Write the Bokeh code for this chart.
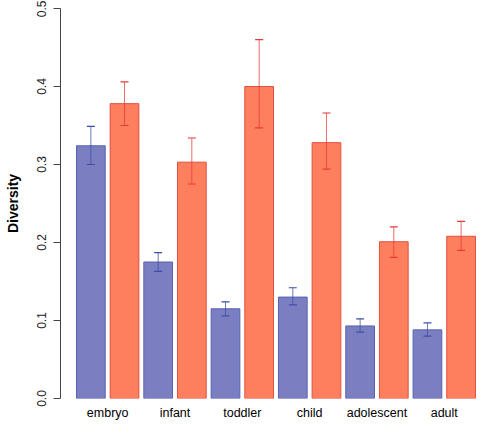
from bokeh.plotting import figure
from bokeh.models import ColumnDataSource, Whisker, FixedTicker, Range1d, TeeHead
from bokeh.embed import file_html
from bokeh.resources import INLINE

stages = ["embryo", "infant", "toddler", "child", "adolescent", "adult"]
blue_mean = [0.324, 0.175, 0.115, 0.130, 0.093, 0.088]
blue_lo = [0.300, 0.163, 0.106, 0.120, 0.085, 0.080]
blue_hi = [0.349, 0.187, 0.124, 0.142, 0.102, 0.097]
red_mean = [0.378, 0.303, 0.400, 0.328, 0.201, 0.208]
red_lo = [0.350, 0.275, 0.347, 0.294, 0.181, 0.190]
red_hi = [0.406, 0.334, 0.460, 0.366, 0.220, 0.227]
y_ticks = [0.0, 0.1, 0.2, 0.3, 0.4, 0.5]

FONT = "Liberation Sans"
n = len(stages)
bx = [2 * i for i in range(n)]
rx = [2 * i + 1 for i in range(n)]
centers = [2 * i + 0.5 for i in range(n)]

p = figure(width=477, height=422, output_backend="svg", toolbar_location=None,
           x_range=Range1d(-0.902, 11.487), y_range=Range1d(0, 0.5),
           min_border_left=60, min_border_right=0, min_border_top=8, min_border_bottom=22)
p.outline_line_color = None
p.grid.visible = False
p.background_fill_color = "white"

bsrc = ColumnDataSource(dict(x=bx, top=blue_mean, lo=blue_lo, hi=blue_hi))
rsrc = ColumnDataSource(dict(x=rx, top=red_mean, lo=red_lo, hi=red_hi))

p.vbar(x="x", top="top", bottom=0, width=0.853, source=bsrc,
       fill_color="#7b7fc1", line_color="#5862b0", line_width=1)
p.vbar(x="x", top="top", bottom=0, width=0.853, source=rsrc,
       fill_color="#fe7f5e", line_color="#e0503e", line_width=1)

for src, col in ((bsrc, "#3f4ea2"), (rsrc, "#e8393a")):
    w = Whisker(base="x", lower="lo", upper="hi", source=src, level="annotation",
                line_color=col, line_width=1, line_alpha=0.75,
                upper_head=TeeHead(size=8, line_color=col, line_width=1.2),
                lower_head=TeeHead(size=8, line_color=col, line_width=1.2))
    p.add_layout(w)

# y axis
ya = p.yaxis[0]
ya.ticker = FixedTicker(ticks=y_ticks)
ya.major_label_overrides = {t: f"{t:.1f}" for t in y_ticks}
ya.major_label_orientation = "vertical"
ya.minor_tick_line_color = None
ya.major_tick_out = 7
ya.major_tick_in = 0
ya.axis_line_color = "#444444"
ya.major_tick_line_color = "#444444"
ya.major_label_text_font = FONT
ya.major_label_text_font_size = "12px"
ya.major_label_text_color = "#222222"
ya.major_label_standoff = 8
ya.axis_label = "Diversity"
ya.axis_label_text_font = FONT
ya.axis_label_text_font_size = "14px"
ya.axis_label_text_font_style = "bold"
ya.axis_label_text_color = "black"
ya.axis_label_standoff = 13

# x axis: category labels only
xa = p.xaxis[0]
xa.ticker = FixedTicker(ticks=centers)
xa.major_label_overrides = {c: s for c, s in zip(centers, stages)}
xa.axis_line_color = None
xa.major_tick_line_color = None
xa.minor_tick_line_color = None
xa.major_tick_out = 0
xa.major_tick_in = 0
xa.major_label_text_font = FONT
xa.major_label_text_font_size = "12.5px"
xa.major_label_text_color = "black"
xa.major_label_standoff = 7

open("out.html", "w").write(file_html(p, INLINE))
